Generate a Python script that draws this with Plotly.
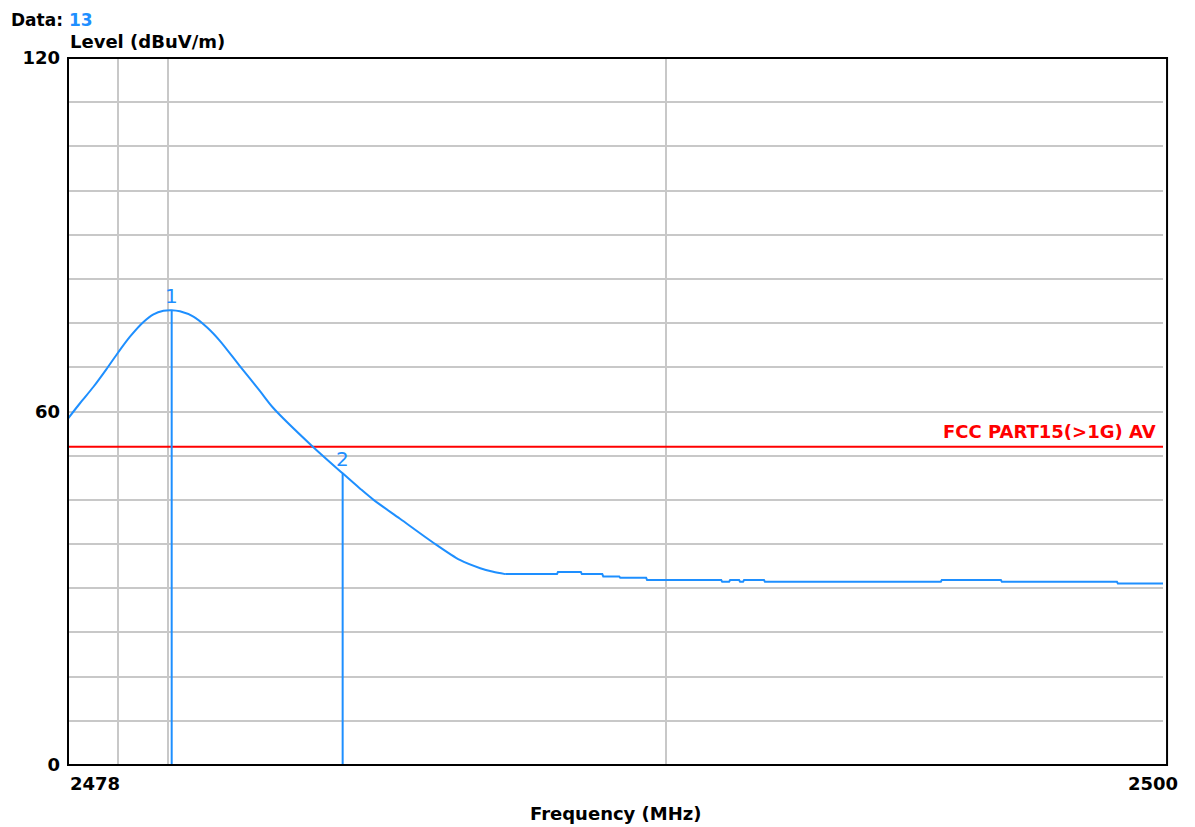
import math
import plotly.graph_objects as go

# ---- data ----
freq_mhz = [2478.00, 2478.24, 2478.51, 2478.77, 2479.01, 2479.24, 2479.51, 2479.71,
            2479.91, 2480.075, 2480.24, 2480.51, 2480.78, 2481.04, 2481.44, 2481.84,
            2482.11, 2482.88, 2483.50, 2483.85, 2484.12, 2484.65, 2485.29, 2485.85,
            2486.26, 2486.52, 2486.76, 2487.80, 2487.82, 2488.28, 2488.30, 2488.71,
            2488.73, 2489.05, 2489.07, 2489.59, 2489.61, 2491.10, 2491.12, 2491.26,
            2491.28, 2491.46, 2491.48, 2491.54, 2491.56, 2491.96, 2491.98, 2495.52,
            2495.54, 2496.73, 2496.75, 2499.07, 2499.09, 2500.00]
level_dbuv = [58.8, 61.4, 64.2, 67.2, 70.1, 72.7, 75.2, 76.5,
              77.1, 77.2, 77.0, 76.1, 74.3, 72.0, 67.7, 63.5,
              60.6, 54.2, 49.5, 46.9, 45.0, 41.8, 37.9, 34.8,
              33.4, 32.8, 32.4, 32.4, 32.75, 32.75, 32.4, 32.4,
              32.0, 32.0, 31.8, 31.8, 31.4, 31.4, 31.1, 31.1,
              31.4, 31.4, 31.1, 31.1, 31.4, 31.4, 31.1, 31.1,
              31.4, 31.4, 31.1, 31.1, 30.8, 30.8]
smooth_end = 27  # first 27 samples form the smooth hump, the rest is the stepped floor

marker_ids = ["1", "2"]
marker_freq = [2480.075, 2483.50]
marker_level = [77.2, 49.5]

limit_name = "FCC PART15(>1G) AV"
limit_level = 54.0

x_start, x_stop = 2478, 2500
x_grid = [2479, 2480, 2490]
y_grid = [i * 7.5 for i in range(17)]
y_labels = {0: "0", 60: "60", 120: "120"}

BLUE = "#1e8fff"
FONT = "DejaVu Sans"

fig = go.Figure()

# limit line
fig.add_trace(go.Scatter(x=[x_start, x_stop], y=[limit_level, limit_level], mode="lines",
                         line=dict(color="#ff0000", width=2), hoverinfo="skip"))

# marker vertical lines
for f, l in zip(marker_freq, marker_level):
    fig.add_trace(go.Scatter(x=[f, f], y=[0, l], mode="lines",
                             line=dict(color=BLUE, width=2), hoverinfo="skip"))

# trace: smooth hump + stepped floor
fig.add_trace(go.Scatter(x=freq_mhz[:smooth_end], y=level_dbuv[:smooth_end], mode="lines",
                         line=dict(color=BLUE, width=2, shape="spline", smoothing=0.8)))
fig.add_trace(go.Scatter(x=freq_mhz[smooth_end - 1:], y=level_dbuv[smooth_end - 1:], mode="lines",
                         line=dict(color=BLUE, width=2)))

# marker labels
for mid, f, l in zip(marker_ids, marker_freq, marker_level):
    fig.add_annotation(x=math.log10(f), y=l, text=mid, showarrow=False,
                       yanchor="bottom", yshift=0,
                       font=dict(family=FONT, size=20, color=BLUE))

# limit label
fig.add_annotation(xref="paper", x=0.995, y=limit_level, text="<b>" + limit_name + "</b>",
                   showarrow=False, xanchor="right", yanchor="bottom", yshift=3,
                   font=dict(family=FONT, size=18, color="#ff0000"))

# axis texts
fig.add_annotation(xref="paper", yref="paper", x=0, y=0, text="<b>%d</b>" % x_start,
                   showarrow=False, xanchor="left", yanchor="middle", yshift=-18,
                   font=dict(family=FONT, size=18, color="black"))
fig.add_annotation(xref="paper", yref="paper", x=1.0155, y=0, text="<b>%d</b>" % x_stop,
                   showarrow=False, xanchor="right", yanchor="middle", yshift=-18,
                   font=dict(family=FONT, size=18, color="black"))
fig.add_annotation(xref="paper", yref="paper", x=0.5, y=0, text="<b>Frequency (MHz)</b>",
                   showarrow=False, xanchor="center", yanchor="middle", yshift=-48,
                   font=dict(family=FONT, size=18, color="black"))
fig.add_annotation(xref="paper", yref="paper", x=0, y=1, text="<b>Level (dBuV/m)</b>",
                   showarrow=False, xanchor="left", yanchor="middle", yshift=17,
                   font=dict(family=FONT, size=18, color="black"))
fig.add_annotation(xref="paper", yref="paper", x=-0.0539, y=1,
                   text="<b>Data: <span style='color:%s'>13</span></b>" % BLUE,
                   showarrow=False, xanchor="left", yanchor="top", yshift=50,
                   font=dict(family=FONT, size=17, color="black"))

# frame
fig.add_shape(type="rect", xref="paper", yref="paper", x0=0, x1=1.0037, y0=0, y1=1,
              line=dict(color="black", width=2), layer="above")

fig.update_layout(
    width=1187, height=819,
    margin=dict(l=60, r=32, t=50, b=62),
    paper_bgcolor="white", plot_bgcolor="white",
    showlegend=False,
    xaxis=dict(type="log", range=[math.log10(x_start), math.log10(x_stop)],
               tickvals=x_grid, showticklabels=False, ticks="",
               showgrid=True, gridcolor="#c8c8c8", gridwidth=2,
               zeroline=False, showline=False),
    yaxis=dict(range=[0, 120], tickvals=y_grid,
               ticktext=["<b>%s</b>" % y_labels[v] if v in y_labels else "" for v in y_grid],
               ticks="", ticklabelstandoff=7,
               tickfont=dict(family=FONT, size=18, color="black"),
               showgrid=True, gridcolor="#c8c8c8", gridwidth=2,
               zeroline=False, showline=False),
)

fig.write_html("out.html")
